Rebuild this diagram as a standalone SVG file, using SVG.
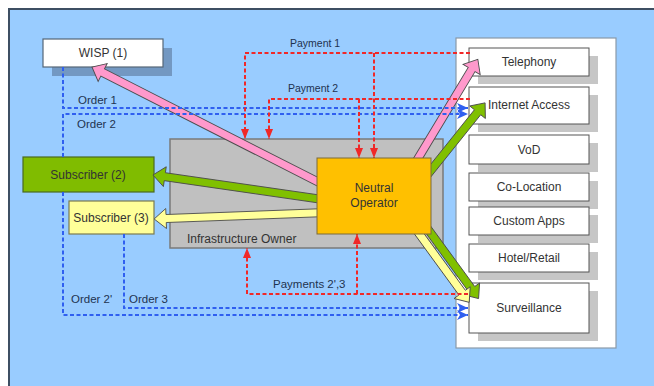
<svg xmlns="http://www.w3.org/2000/svg" width="654" height="386" viewBox="0 0 654 386">
<defs>
<style>
text{font-family:"Liberation Sans",Arial,sans-serif;fill:#333;}
.box{font-size:12px;text-anchor:middle;}
.lbl{font-size:11.5px;fill:#1E3350;}
.pay{font-size:10.5px;}
.svc{fill:#fff;stroke:#555;stroke-width:1;}
.sh{fill:#C6C6C6;}
.red{fill:none;stroke:#F02828;stroke-width:2;stroke-dasharray:4 2.5;marker-end:url(#ra);}
.blue{fill:none;stroke:#2F5FF0;stroke-width:2;stroke-dasharray:4 2.5;marker-end:url(#ba);}
.fat{stroke:#4d4d4d;stroke-width:0.9;stroke-linejoin:miter;}
</style>
<marker id="ra" markerUnits="userSpaceOnUse" markerWidth="10" markerHeight="10" viewBox="0 0 10 10" refX="10" refY="5" orient="auto"><path d="M0,1 L10,5 L0,9 z" fill="#F02828"/></marker>
<marker id="ba" markerUnits="userSpaceOnUse" markerWidth="11" markerHeight="11" viewBox="0 0 11 11" refX="11" refY="5.5" orient="auto"><path d="M0,0.5 L11,5.5 L0,10.5 L3,5.5 z" fill="#2F5FF0"/></marker>
</defs>
<rect x="0" y="0" width="654" height="386" fill="#fff"/>
<rect x="9" y="9" width="660" height="400" fill="#99CCFF" stroke="#3D4F63" stroke-width="2"/>

<g id="services">
<rect x="456" y="38" width="160" height="310" fill="#fff" stroke="#8A99A8" stroke-width="1.2"/>
<g id="telephony"><rect class="sh" x="478" y="56" width="120" height="28"/><rect class="svc" x="469" y="48" width="120" height="28"/><text class="box" x="529" y="66">Telephony</text></g>
<g id="internet"><rect class="sh" x="478" y="95" width="120" height="37"/><rect class="svc" x="469" y="87" width="120" height="37"/><text class="box" x="529" y="109">Internet Access</text></g>
<g id="vod"><rect class="sh" x="478" y="143" width="120" height="29"/><rect class="svc" x="469" y="135" width="120" height="29"/><text class="box" x="529" y="154">VoD</text></g>
<g id="colocation"><rect class="sh" x="478" y="181" width="120" height="28"/><rect class="svc" x="469" y="173" width="120" height="28"/><text class="box" x="529" y="191">Co-Location</text></g>
<g id="customapps"><rect class="sh" x="478" y="215" width="120" height="28"/><rect class="svc" x="469" y="207" width="120" height="28"/><text class="box" x="529" y="225">Custom Apps</text></g>
<g id="hotelretail"><rect class="sh" x="478" y="252" width="120" height="28"/><rect class="svc" x="469" y="244" width="120" height="28"/><text class="box" x="529" y="262">Hotel/Retail</text></g>
<g id="surveillance"><rect class="sh" x="478" y="291" width="120" height="50"/><rect class="svc" x="469" y="283" width="120" height="50"/><text class="box" x="529" y="312">Surveillance</text></g>
</g>

<g id="infrastructure-owner">
<rect x="170" y="139" width="273" height="109" fill="#C0C0C0" stroke="#7A7A7A" stroke-width="1.5"/>
<text x="187" y="243" style="font-size:12px">Infrastructure Owner</text>
</g>

<g id="wisp">
<rect x="52" y="48" width="120" height="28" fill="#7398C2"/>
<rect x="43" y="39" width="120" height="28" fill="#fff" stroke="#556677" stroke-width="1.2"/>
<text class="box" x="103" y="57">WISP (1)</text>
</g>

<g id="subscriber2">
<rect x="23" y="157" width="131" height="35" fill="#80BC00" stroke="#4A6A20" stroke-width="1.2"/>
<text class="box" x="88" y="179">Subscriber (2)</text>
</g>

<g id="subscriber3">
<rect x="69" y="201" width="85" height="33" fill="#FFFF99" stroke="#7A7A50" stroke-width="1.2"/>
<text class="box" x="111" y="222">Subscriber (3)</text>
</g>

<g id="connectors">
<polygon class="fat" fill="#FF99CC" transform="translate(330,188) rotate(206.94)" points="0,-4 255,-4 255,-10 267,0 255,10 255,4 0,4"/>
<polygon class="fat" fill="#FF99CC" transform="translate(405,180) rotate(-58.9)" points="0,-4 129,-4 129,-10 141,0 129,10 129,4 0,4"/>
<polygon class="fat" fill="#80C000" transform="translate(420,184) rotate(-51.26)" points="0,-4 92,-4 92,-10 104,0 92,10 92,4 0,4"/>
<polygon class="fat" fill="#80C000" transform="translate(340,202) rotate(188.22)" points="0,-4 177,-4 177,-10 189,0 177,10 177,4 0,4"/>
<polygon class="fat" fill="#FFFF99" transform="translate(340,212) rotate(177.85)" points="0,-4 174,-4 174,-10 186,0 174,10 174,4 0,4"/>
<polygon class="fat" fill="#80C000" transform="translate(422,221) rotate(53.9)" points="0,-4 84,-4 84,-10 96,0 84,10 84,4 0,4"/>
<polygon class="fat" fill="#FFFF99" transform="translate(415,228) rotate(53.9)" points="0,-4 80,-4 80,-10 92,0 80,10 80,4 0,4"/>

<path class="blue" d="M63,67 V108 H468"/>
<path class="blue" d="M63,157 V114 H468"/>
<path class="blue" d="M63,192 V315 H468"/>
<path class="blue" d="M124,234 V308 H468"/>

<path class="red" d="M470,53 H245 V139"/>
<path class="red" d="M374,53 V158"/>
<path class="red" d="M470,99 H269 V139"/>
<path class="red" d="M359,99 V158"/>
<path class="red" d="M468,294 H247 V248"/>
<path class="red" d="M357,294 V234"/>

<text class="lbl pay" x="290" y="47">Payment 1</text>
<text class="lbl pay" x="288" y="92">Payment 2</text>
<text class="lbl" x="78" y="104">Order 1</text>
<text class="lbl" x="77" y="128">Order 2</text>
<text class="lbl" x="71" y="303">Order 2'</text>
<text class="lbl" x="129" y="303">Order 3</text>
<text class="lbl" x="273" y="288">Payments 2',3</text>
</g>

<g id="neutral-operator">
<rect x="317" y="158" width="114" height="76" fill="#FFC000" stroke="#7A6A3A" stroke-width="1"/>
<text class="box" x="374" y="192">Neutral</text>
<text class="box" x="374" y="207">Operator</text>
</g>
</svg>
